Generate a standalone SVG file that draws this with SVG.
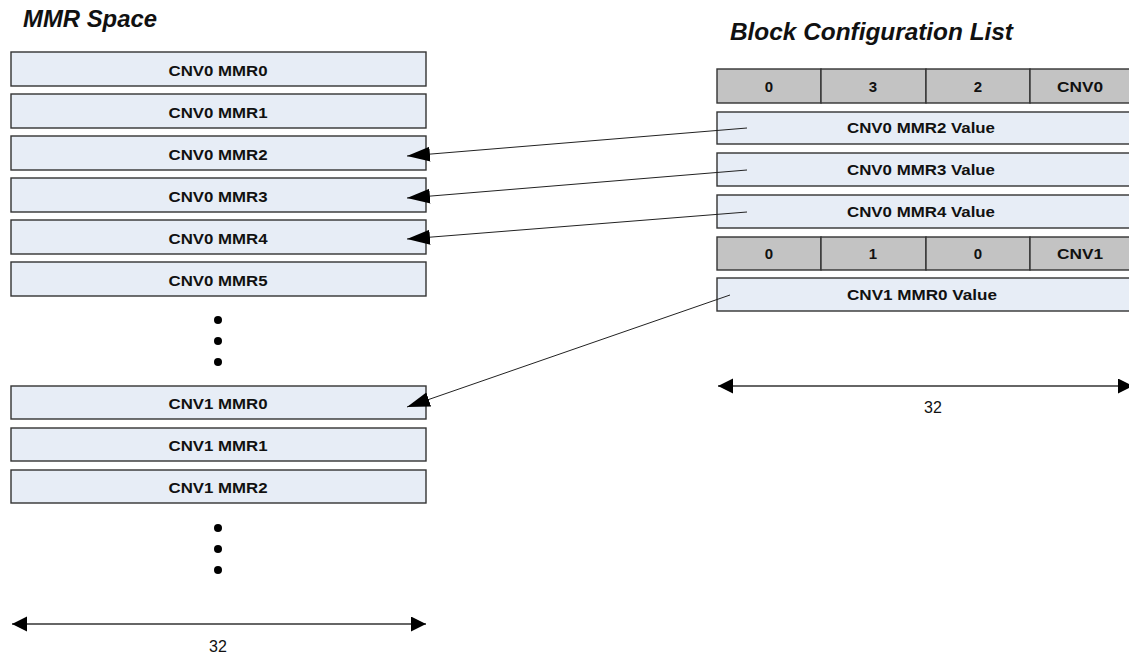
<svg xmlns="http://www.w3.org/2000/svg" width="1129" height="656" viewBox="0 0 1129 656">
<style>
.box{fill:#e7edf6;stroke:#333;stroke-width:1.4}
.hdr{fill:#c3c3c3;stroke:#333;stroke-width:1.4}
.lbl{font-family:"Liberation Sans",Arial,sans-serif;font-weight:bold;font-size:15px;fill:#111}
.ttl{font-family:"Liberation Sans",Arial,sans-serif;font-weight:bold;font-style:italic;font-size:23px;fill:#111}
.dim{font-family:"Liberation Sans",Arial,sans-serif;font-size:16px;fill:#111}
.conn{stroke:#222;stroke-width:1;fill:none}
.dline{stroke:#333;stroke-width:1.5;fill:none}
.dot{fill:#000}
</style>
<defs>
<marker id="ah" markerUnits="userSpaceOnUse" markerWidth="24" markerHeight="16" refX="23" refY="7.5" orient="auto"><path d="M0,0 L23,7.5 L0,15 z" fill="#000"/></marker>
<marker id="dh" markerUnits="userSpaceOnUse" markerWidth="16" markerHeight="16" refX="15" refY="7.5" orient="auto-start-reverse"><path d="M0,0 L15,7.5 L0,15 z" fill="#000"/></marker>
</defs>
<rect width="1129" height="656" fill="#fff"/>
<text class="ttl" x="23" y="27" textLength="134" lengthAdjust="spacingAndGlyphs">MMR Space</text>
<text class="ttl" x="730" y="40" textLength="283" lengthAdjust="spacingAndGlyphs">Block Configuration List</text>

<g id="mmr-space">
<g id="cnv0-mmr0"><rect class="box" x="11" y="52" width="415" height="34"/><text class="lbl" x="218" y="76" text-anchor="middle" textLength="99" lengthAdjust="spacingAndGlyphs">CNV0 MMR0</text></g>
<g id="cnv0-mmr1"><rect class="box" x="11" y="94" width="415" height="34"/><text class="lbl" x="218" y="118" text-anchor="middle" textLength="99" lengthAdjust="spacingAndGlyphs">CNV0 MMR1</text></g>
<g id="cnv0-mmr2"><rect class="box" x="11" y="136" width="415" height="34"/><text class="lbl" x="218" y="160" text-anchor="middle" textLength="99" lengthAdjust="spacingAndGlyphs">CNV0 MMR2</text></g>
<g id="cnv0-mmr3"><rect class="box" x="11" y="178" width="415" height="34"/><text class="lbl" x="218" y="202" text-anchor="middle" textLength="99" lengthAdjust="spacingAndGlyphs">CNV0 MMR3</text></g>
<g id="cnv0-mmr4"><rect class="box" x="11" y="220" width="415" height="34"/><text class="lbl" x="218" y="244" text-anchor="middle" textLength="99" lengthAdjust="spacingAndGlyphs">CNV0 MMR4</text></g>
<g id="cnv0-mmr5"><rect class="box" x="11" y="262" width="415" height="34"/><text class="lbl" x="218" y="286" text-anchor="middle" textLength="99" lengthAdjust="spacingAndGlyphs">CNV0 MMR5</text></g>
<g id="dots1"><circle class="dot" cx="218" cy="320" r="4"/><circle class="dot" cx="218" cy="341" r="4"/><circle class="dot" cx="218" cy="362" r="4"/></g>
<g id="cnv1-mmr0"><rect class="box" x="11" y="386" width="415" height="33"/><text class="lbl" x="218" y="409" text-anchor="middle" textLength="99" lengthAdjust="spacingAndGlyphs">CNV1 MMR0</text></g>
<g id="cnv1-mmr1"><rect class="box" x="11" y="428" width="415" height="33"/><text class="lbl" x="218" y="451" text-anchor="middle" textLength="99" lengthAdjust="spacingAndGlyphs">CNV1 MMR1</text></g>
<g id="cnv1-mmr2"><rect class="box" x="11" y="470" width="415" height="33"/><text class="lbl" x="218" y="493" text-anchor="middle" textLength="99" lengthAdjust="spacingAndGlyphs">CNV1 MMR2</text></g>
<g id="dots2"><circle class="dot" cx="218" cy="528" r="4"/><circle class="dot" cx="218" cy="549" r="4"/><circle class="dot" cx="218" cy="570" r="4"/></g>
<g id="dim-left"><line class="dline" x1="12" y1="624" x2="426" y2="624" marker-start="url(#dh)" marker-end="url(#dh)"/><text class="dim" x="218" y="652" text-anchor="middle">32</text></g>
</g>

<g id="block-config">
<g id="hdr0">
<rect class="hdr" x="717" y="69" width="104" height="34"/><rect class="hdr" x="821" y="69" width="105" height="34"/><rect class="hdr" x="926" y="69" width="104" height="34"/><rect class="hdr" x="1030" y="69" width="104" height="34"/>
<text class="lbl" x="769" y="92" text-anchor="middle">0</text><text class="lbl" x="873" y="92" text-anchor="middle">3</text><text class="lbl" x="978" y="92" text-anchor="middle">2</text><text class="lbl" x="1080" y="92" text-anchor="middle" textLength="46" lengthAdjust="spacingAndGlyphs">CNV0</text>
</g>
<g id="val-cnv0-mmr2"><rect class="box" x="717" y="112" width="417" height="32"/><text class="lbl" x="847" y="133" textLength="148" lengthAdjust="spacingAndGlyphs">CNV0  MMR2 Value</text></g>
<g id="val-cnv0-mmr3"><rect class="box" x="717" y="153" width="417" height="33"/><text class="lbl" x="847" y="175" textLength="148" lengthAdjust="spacingAndGlyphs">CNV0  MMR3 Value</text></g>
<g id="val-cnv0-mmr4"><rect class="box" x="717" y="195" width="417" height="33"/><text class="lbl" x="847" y="217" textLength="148" lengthAdjust="spacingAndGlyphs">CNV0  MMR4 Value</text></g>
<g id="hdr1">
<rect class="hdr" x="717" y="237" width="104" height="33"/><rect class="hdr" x="821" y="237" width="105" height="33"/><rect class="hdr" x="926" y="237" width="104" height="33"/><rect class="hdr" x="1030" y="237" width="104" height="33"/>
<text class="lbl" x="769" y="259" text-anchor="middle">0</text><text class="lbl" x="873" y="259" text-anchor="middle">1</text><text class="lbl" x="978" y="259" text-anchor="middle">0</text><text class="lbl" x="1080" y="259" text-anchor="middle" textLength="46" lengthAdjust="spacingAndGlyphs">CNV1</text>
</g>
<g id="val-cnv1-mmr0"><rect class="box" x="717" y="278" width="417" height="33"/><text class="lbl" x="847" y="300" textLength="150" lengthAdjust="spacingAndGlyphs">CNV1  MMR0 Value</text></g>
<g id="dim-right"><line class="dline" x1="718" y1="386" x2="1133" y2="386" marker-start="url(#dh)" marker-end="url(#dh)"/><text class="dim" x="933" y="413" text-anchor="middle">32</text></g>
</g>

<g id="connectors">
<line class="conn" x1="747" y1="128" x2="407" y2="156" marker-end="url(#ah)"/>
<line class="conn" x1="747" y1="170" x2="407" y2="198" marker-end="url(#ah)"/>
<line class="conn" x1="747" y1="212" x2="407" y2="239" marker-end="url(#ah)"/>
<line class="conn" x1="730" y1="295" x2="407" y2="407" marker-end="url(#ah)"/>
</g>
</svg>
